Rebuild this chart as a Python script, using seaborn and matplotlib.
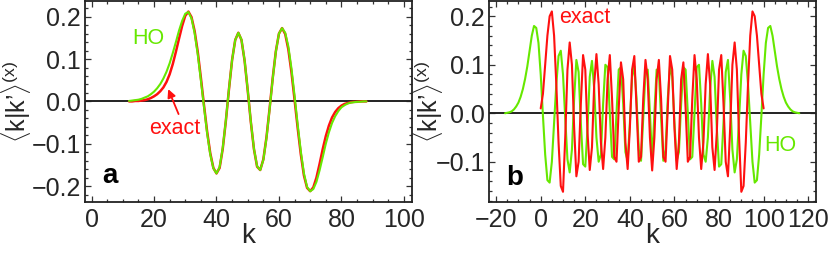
import matplotlib
matplotlib.use('Agg')
import matplotlib.pyplot as plt
import seaborn as sns
from matplotlib.ticker import MultipleLocator

# ---- panel a: overlap vs k ----
k_a = list(range(12, 89))
exact_a = [0.000, 0.000, 0.001, 0.001, 0.002, 0.003, 0.005, 0.008, 0.012, 0.017,
           0.024, 0.033, 0.046, 0.064, 0.088, 0.117, 0.148, 0.178, 0.202, 0.212,
           0.199, 0.166, 0.117, 0.056, -0.009, -0.071, -0.122, -0.157, -0.170, -0.157,
           -0.112, -0.046, 0.029, 0.098, 0.145, 0.162, 0.145, 0.096, 0.026, -0.049,
           -0.113, -0.154, -0.162, -0.137, -0.085, -0.017, 0.055, 0.118, 0.160, 0.173,
           0.159, 0.123, 0.069, 0.004, -0.063, -0.125, -0.175, -0.204, -0.212, -0.203,
           -0.180, -0.148, -0.113, -0.082, -0.057, -0.038, -0.025, -0.016, -0.010, -0.006,
           -0.004, -0.002, -0.001, -0.001, 0.000, 0.000, 0.000]
ho_a = [0.001, 0.002, 0.003, 0.004, 0.006, 0.009, 0.012, 0.017, 0.023, 0.031,
        0.041, 0.054, 0.070, 0.090, 0.114, 0.140, 0.167, 0.190, 0.207, 0.211,
        0.196, 0.161, 0.111, 0.050, -0.013, -0.075, -0.125, -0.158, -0.170, -0.155,
        -0.110, -0.045, 0.030, 0.098, 0.145, 0.162, 0.146, 0.097, 0.027, -0.048,
        -0.112, -0.153, -0.162, -0.138, -0.087, -0.019, 0.053, 0.117, 0.160, 0.173,
        0.162, 0.130, 0.078, 0.013, -0.055, -0.118, -0.170, -0.202, -0.212, -0.207,
        -0.190, -0.163, -0.132, -0.100, -0.073, -0.051, -0.035, -0.023, -0.014, -0.009,
        -0.005, -0.003, -0.002, -0.001, -0.001, 0.000, 0.000]

# ---- panel b ----
k_b_exact = list(range(0, 101))
exact_b = [0.010, 0.040, 0.100, 0.160, 0.200, 0.210, 0.160, 0.060, -0.060, -0.150,
           -0.162, -0.050, 0.090, 0.146, 0.100, -0.030, -0.130, -0.100, 0.020, 0.120,
           0.090, -0.040, -0.117, -0.070, 0.060, 0.122, 0.060, -0.060, -0.115, -0.050,
           0.070, 0.120, 0.030, -0.090, -0.100, 0.010, 0.105, 0.070, -0.060, -0.115,
           -0.030, 0.090, 0.118, 0.010, -0.100, -0.090, 0.030, 0.110, 0.070, -0.050,
           -0.118,
           -0.050, 0.070, 0.110, 0.030, -0.090, -0.100, 0.010, 0.118, 0.090, -0.030,
           -0.115, -0.060, 0.070, 0.105, 0.010, -0.100, -0.090, 0.030, 0.120, 0.070,
           -0.050, -0.115, -0.060, 0.060, 0.122, 0.060, -0.070, -0.117, -0.040, 0.090,
           0.120, 0.020, -0.100, -0.130, -0.030, 0.100, 0.146, 0.090, -0.050, -0.162,
           -0.150, -0.060, 0.060, 0.160, 0.210, 0.200, 0.160, 0.100, 0.040, 0.010]
k_b_ho = list(range(-16, 117))
ho_b = [0.000, 0.001, 0.002, 0.004, 0.008, 0.014, 0.022, 0.034, 0.050, 0.071,
        0.097, 0.128, 0.160, 0.180, 0.176, 0.145,
        0.080, -0.005, -0.085, -0.138, -0.143, -0.100, -0.020, 0.060, 0.118, 0.129,
        0.080, -0.010, -0.095, -0.122, -0.075, 0.030, 0.110, 0.085, -0.020, -0.105,
        -0.110, -0.030, 0.075, 0.108, 0.050, -0.050, -0.100, -0.085, 0.020, 0.100,
        0.095, 0.000, -0.090, -0.095, 0.000, 0.090, 0.095, 0.020, -0.080, -0.098,
        -0.020, 0.075, 0.097, 0.030, -0.075, -0.098, -0.010, 0.085, 0.090, 0.000,
        -0.098,
        0.000, 0.090, 0.085, -0.010, -0.098, -0.075, 0.030, 0.097, 0.075, -0.020,
        -0.098, -0.080, 0.020, 0.095, 0.090, 0.000, -0.095, -0.090, 0.000, 0.095,
        0.100, 0.020, -0.085, -0.100, -0.050, 0.050, 0.108, 0.075, -0.030, -0.110,
        -0.105, -0.020, 0.085, 0.110, 0.030, -0.075, -0.122, -0.095, -0.010, 0.080,
        0.129, 0.118, 0.060, -0.020, -0.100, -0.143, -0.138, -0.085, -0.005, 0.080,
        0.145, 0.176, 0.180, 0.160, 0.128, 0.097, 0.071, 0.050, 0.034, 0.022,
        0.014, 0.008, 0.004, 0.002, 0.001, 0.000]

RED = '#ff1010'
GREEN = '#66e800'

sns.set_style('ticks')
plt.rcParams['font.family'] = ['Liberation Sans', 'DejaVu Sans']
plt.rcParams['mathtext.fontset'] = 'custom'
plt.rcParams['mathtext.rm'] = 'Liberation Sans'
plt.rcParams['mathtext.it'] = 'Liberation Sans'

fig = plt.figure(figsize=(8.31, 2.57), dpi=100)
ax_a = fig.add_axes([85 / 831, 1 - 202 / 257, 327 / 831, 201 / 257])
ax_b = fig.add_axes([489 / 831, 1 - 202 / 257, 327 / 831, 201 / 257])

ylab = r'$\langle\mathrm{k|k’}\rangle^{(\mathrm{x})}$'

# panel a
sns.lineplot(x=k_a, y=exact_a, ax=ax_a, color=RED, lw=1.8, sort=False, estimator=None)
sns.lineplot(x=k_a, y=ho_a, ax=ax_a, color=GREEN, lw=1.5, sort=False, estimator=None)
ax_a.axhline(0, color='#222222', lw=1.4, zorder=1)
ax_a.set_xlim(-2.1, 102.6)
ax_a.set_ylim(-0.2375, 0.237)
ax_a.xaxis.set_major_locator(MultipleLocator(20))
ax_a.xaxis.set_minor_locator(MultipleLocator(5))
ax_a.yaxis.set_minor_locator(MultipleLocator(0.02))
ax_a.text(18.1, 0.148, 'HO', color=GREEN, fontsize=15.5, ha='center', va='center')
ax_a.text(5.9, -0.175, 'a', color='black', fontsize=20, fontweight='bold', ha='center', va='center')
ax_a.text(26.5, -0.065, 'exact', color=RED, fontsize=15.5, ha='center', va='center')
ax_a.annotate('', xy=(24.2, 0.035), xytext=(28.2, -0.036),
              arrowprops=dict(arrowstyle='-|>', color=RED, lw=1.3, mutation_scale=12))

# panel b
sns.lineplot(x=k_b_ho, y=ho_b, ax=ax_b, color=GREEN, lw=1.5, sort=False, estimator=None)
sns.lineplot(x=k_b_exact, y=exact_b, ax=ax_b, color=RED, lw=1.5, sort=False, estimator=None)
ax_b.axhline(0, color='#222222', lw=1.4, zorder=1)
ax_b.set_xlim(-23.2, 123.5)
ax_b.set_ylim(-0.183, 0.2315)
ax_b.xaxis.set_major_locator(MultipleLocator(20))
ax_b.xaxis.set_minor_locator(MultipleLocator(5))
ax_b.yaxis.set_minor_locator(MultipleLocator(0.02))
ax_b.text(19.9, 0.197, 'exact', color=RED, fontsize=15.5, ha='center', va='center')
ax_b.text(107.3, -0.066, 'HO', color=GREEN, fontsize=15.5, ha='center', va='center')
ax_b.text(-11.5, -0.134, 'b', color='black', fontsize=20, fontweight='bold', ha='center', va='center')

for ax, ylx in ((ax_a, -0.16), (ax_b, -0.135)):
    ax.set_xlabel('k', fontsize=20)
    ax.set_ylabel(ylab, fontsize=18)
    ax.xaxis.set_label_coords(0.5, -0.105)
    ax.yaxis.set_label_coords(ylx, 0.5)
    ax.tick_params(which='both', direction='in', top=True, right=True,
                   color='#333333', width=0.9)
    ax.tick_params(which='major', length=4.5, labelsize=18)
    ax.tick_params(axis='x', which='major', pad=4)
    ax.tick_params(axis='y', which='major', pad=3)
    ax.tick_params(which='minor', length=2.5)
    for sp in ax.spines.values():
        sp.set_color('#222222')
        sp.set_linewidth(1.3)
        sp.set_visible(True)

ax_a.set_yticks([-0.2, -0.1, 0.0, 0.1, 0.2])
ax_a.set_yticklabels(['\u22120.2', '\u22120.1', '0.0', '0.1', '0.2'])
ax_b.set_yticks([-0.1, 0.0, 0.1, 0.2])
ax_b.set_yticklabels(['\u22120.1', '0.0', '0.1', '0.2'])

fig.savefig('out.png', dpi=100)
